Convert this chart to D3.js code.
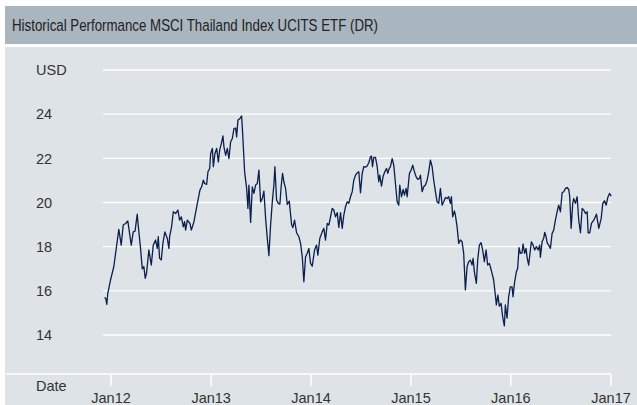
<!DOCTYPE html>
<html>
<head>
<meta charset="utf-8">
<script src="https://cdn.jsdelivr.net/npm/d3@7"></script>
<style>
  body { margin: 0; background: #fff; }
  text { font-family: "Liberation Sans", Arial, sans-serif; }
</style>
</head>
<body>
<div id="chart"></div>
<script>
// decimal year of each weekly observation, and the price in USD
const times = [2011.940, 2011.953, 2011.963, 2011.973, 2012.000, 2012.033, 2012.083, 2012.107, 2012.127, 2012.150,
  2012.173, 2012.207, 2012.227, 2012.245, 2012.267, 2012.275, 2012.300, 2012.317, 2012.333, 2012.347,
  2012.360, 2012.383, 2012.407, 2012.427, 2012.450, 2012.467, 2012.477, 2012.490, 2012.507, 2012.523,
  2012.543, 2012.567, 2012.583, 2012.590, 2012.610, 2012.627, 2012.650, 2012.673, 2012.690, 2012.707,
  2012.727, 2012.740, 2012.750, 2012.767, 2012.793, 2012.807, 2012.833, 2012.867, 2012.893, 2012.910,
  2012.927, 2012.940, 2012.960, 2012.973, 2012.990, 2013.000, 2013.017, 2013.027, 2013.043, 2013.060,
  2013.077, 2013.090, 2013.107, 2013.123, 2013.133, 2013.150, 2013.167, 2013.183, 2013.200, 2013.217,
  2013.233, 2013.250, 2013.260, 2013.273, 2013.293, 2013.310, 2013.323, 2013.340, 2013.360, 2013.373,
  2013.383, 2013.400, 2013.417, 2013.433, 2013.450, 2013.467, 2013.483, 2013.500, 2013.517, 2013.533,
  2013.550, 2013.567, 2013.583, 2013.600, 2013.617, 2013.633, 2013.643, 2013.660, 2013.677, 2013.693,
  2013.707, 2013.720, 2013.733, 2013.750, 2013.767, 2013.787, 2013.810, 2013.823, 2013.840, 2013.860,
  2013.883, 2013.900, 2013.917, 2013.933, 2013.950, 2013.967, 2013.983, 2014.000, 2014.017, 2014.040,
  2014.060, 2014.073, 2014.093, 2014.117, 2014.133, 2014.150, 2014.167, 2014.183, 2014.200, 2014.217,
  2014.233, 2014.250, 2014.267, 2014.283, 2014.300, 2014.317, 2014.333, 2014.350, 2014.367, 2014.383,
  2014.400, 2014.417, 2014.433, 2014.450, 2014.467, 2014.483, 2014.500, 2014.517, 2014.533, 2014.550,
  2014.567, 2014.583, 2014.600, 2014.610, 2014.620, 2014.633, 2014.650, 2014.667, 2014.683, 2014.693,
  2014.710, 2014.727, 2014.743, 2014.760, 2014.773, 2014.787, 2014.800, 2014.817, 2014.833, 2014.850,
  2014.867, 2014.883, 2014.893, 2014.910, 2014.927, 2014.940, 2014.957, 2014.967, 2014.990, 2015.007,
  2015.023, 2015.040, 2015.057, 2015.073, 2015.090, 2015.100, 2015.117, 2015.133, 2015.150, 2015.167,
  2015.183, 2015.200, 2015.217, 2015.233, 2015.250, 2015.267, 2015.283, 2015.300, 2015.317, 2015.333,
  2015.350, 2015.367, 2015.383, 2015.400, 2015.410, 2015.423, 2015.440, 2015.450, 2015.467, 2015.483,
  2015.500, 2015.517, 2015.533, 2015.550, 2015.567, 2015.583, 2015.600, 2015.617, 2015.627, 2015.640,
  2015.660, 2015.673, 2015.690, 2015.707, 2015.723, 2015.740, 2015.757, 2015.773, 2015.790, 2015.800,
  2015.817, 2015.833, 2015.850, 2015.860, 2015.875, 2015.890, 2015.907, 2015.923, 2015.940, 2015.950,
  2015.967, 2015.983, 2016.000, 2016.017, 2016.027, 2016.043, 2016.060, 2016.073, 2016.087, 2016.100,
  2016.117, 2016.127, 2016.143, 2016.157, 2016.167, 2016.183, 2016.200, 2016.210, 2016.227, 2016.243,
  2016.260, 2016.277, 2016.293, 2016.300, 2016.317, 2016.333, 2016.343, 2016.357, 2016.367, 2016.383,
  2016.400, 2016.417, 2016.433, 2016.450, 2016.467, 2016.483, 2016.500, 2016.517, 2016.533, 2016.550,
  2016.567, 2016.583, 2016.593, 2016.607, 2016.623, 2016.633, 2016.650, 2016.667, 2016.683, 2016.700,
  2016.717, 2016.733, 2016.750, 2016.767, 2016.777, 2016.793, 2016.810, 2016.833, 2016.860, 2016.883,
  2016.907, 2016.923, 2016.940, 2016.957, 2016.973, 2016.990, 2017.007];

const prices = [15.70, 15.65, 15.39, 15.89, 16.49, 17.09, 18.78, 18.07, 18.98, 19.05,
  19.16, 18.07, 18.67, 18.70, 19.47, 19.05, 17.92, 17.00, 17.10, 16.56,
  16.80, 17.85, 17.17, 18.07, 18.30, 17.92, 18.45, 17.47, 17.40, 18.15,
  18.67, 18.37, 17.92, 18.45, 18.90, 19.58, 19.50, 19.66, 19.20, 19.35,
  18.90, 19.13, 18.75, 19.20, 19.05, 18.75, 19.13, 19.96, 20.56, 20.71,
  21.01, 20.86, 20.82, 21.39, 21.54, 22.22, 22.45, 21.62, 22.22, 22.45,
  21.84, 22.37, 22.67, 23.02, 22.52, 22.14, 22.45, 21.99, 22.75, 22.90,
  23.35, 23.37, 22.97, 23.73, 23.80, 23.92, 22.90, 21.39, 20.64, 19.73,
  20.79, 19.10, 20.71, 20.41, 20.79, 20.86, 21.47, 20.03, 20.18, 20.52,
  19.28, 18.38, 17.59, 18.98, 20.03, 20.79, 21.62, 20.11, 19.96, 19.93,
  20.79, 21.32, 20.94, 20.64, 19.91, 20.06, 19.00, 18.86, 19.20, 18.63,
  18.45, 18.15, 17.54, 16.41, 17.54, 17.70, 17.92, 17.24, 17.12, 17.85,
  18.07, 17.62, 18.38, 18.67, 18.83, 18.30, 19.05, 18.98, 19.35, 19.73,
  19.66, 19.35, 19.54, 18.87, 19.54, 18.83, 19.43, 19.81, 20.03, 19.96,
  20.26, 20.49, 21.01, 21.24, 21.34, 21.39, 20.44, 21.32, 21.62, 21.60,
  21.65, 21.80, 22.07, 22.10, 21.62, 22.04, 22.04, 21.62, 20.94, 21.24,
  20.74, 21.19, 21.39, 21.54, 21.32, 21.54, 21.62, 21.99, 21.69, 20.86,
  20.03, 19.88, 20.79, 20.26, 20.59, 20.33, 20.64, 20.26, 21.32, 21.47,
  21.69, 21.39, 21.16, 21.05, 21.09, 21.24, 20.49, 20.71, 20.79, 21.01,
  21.39, 21.92, 21.62, 21.01, 20.49, 20.03, 19.96, 20.64, 19.88, 20.03,
  20.23, 20.18, 20.26, 19.96, 20.26, 19.35, 19.62, 19.43, 18.90, 18.15,
  18.30, 18.22, 17.70, 16.04, 17.09, 17.32, 17.39, 17.17, 17.47, 16.86,
  16.34, 17.39, 18.07, 18.18, 17.85, 17.32, 17.85, 17.17, 17.24, 17.09,
  16.79, 16.49, 15.81, 15.36, 15.81, 15.31, 15.43, 14.83, 14.41, 15.36,
  14.76, 15.73, 16.18, 16.18, 15.73, 16.41, 16.86, 17.01, 17.96, 17.70,
  17.72, 18.12, 17.70, 17.92, 17.52, 17.17, 17.85, 18.22, 18.07, 17.85,
  18.00, 17.85, 18.07, 17.52, 18.22, 18.38, 18.65, 18.45, 18.18, 18.07,
  17.92, 18.60, 18.75, 19.20, 19.58, 19.88, 19.58, 20.44, 20.49, 20.64,
  20.68, 20.59, 20.26, 18.83, 19.96, 20.18, 19.96, 20.26, 19.20, 18.63,
  19.73, 19.66, 19.50, 19.58, 18.63, 18.63, 19.05, 19.20, 19.47, 18.83,
  19.28, 19.96, 20.08, 19.88, 20.23, 20.41, 20.29];

const yTicks = [14, 16, 18, 20, 22, 24, 26];
const yTickLabels = ["14", "16", "18", "20", "22", "24", "USD"];
const xTickYears = [2012, 2013, 2014, 2015, 2016, 2017];
const title = "Historical Performance MSCI Thailand Index UCITS ETF (DR)";

const width = 637,
    height = 405;

const svg = d3.select("#chart")
    .append("svg")
    .attr("width", width)
    .attr("height", height);

// decimal year -> Date
const toDate = t => {
    const yr = Math.floor(t);
    const a = new Date(yr, 0, 1), b = new Date(yr + 1, 0, 1);
    return new Date(+a + (t - yr) * (b - a));
};

const data = times.map((t, i) => ({date: toDate(t), value: prices[i]}));

const x = d3.scaleTime()
    .domain([new Date(2012, 0, 1), new Date(2017, 0, 1)])
    .range([110.5, 610.5]);

const y = d3.scaleLinear()
    .domain([14, 26])
    .range([335, 70]);

// title bar and panel
svg.append("rect")
    .attr("x", 5).attr("y", 6)
    .attr("width", width - 5).attr("height", 38)
    .attr("fill", "#a9b5bf");

svg.append("text")
    .attr("x", 12).attr("y", 31)
    .attr("font-size", 17)
    .attr("fill", "#222")
    .attr("textLength", 366)
    .attr("lengthAdjust", "spacingAndGlyphs")
    .text(title);

svg.append("rect")
    .attr("x", 5).attr("y", 47)
    .attr("width", width - 5).attr("height", height - 47)
    .attr("fill", "#dde3e7");

// gridlines + y labels
const grid = svg.append("g");
grid.selectAll("line")
    .data(yTicks)
    .join("line")
    .attr("x1", 103).attr("x2", 611)
    .attr("y1", d => y(d)).attr("y2", d => y(d))
    .attr("stroke", "#fff")
    .attr("stroke-width", 1.4);

grid.selectAll("text")
    .data(yTicks)
    .join("text")
    .attr("x", 36)
    .attr("y", d => y(d))
    .attr("dy", "0.36em")
    .attr("font-size", 14.5)
    .attr("fill", "#333")
    .text((d, i) => yTickLabels[i]);

// x axis
const xAxis = g => g
    .attr("transform", `translate(0,374)`)
    .call(d3.axisBottom(x)
        .tickValues(xTickYears.map(yr => new Date(yr, 0, 1)))
        .tickFormat(d3.timeFormat("Jan%y"))
        .tickSize(12)
        .tickPadding(7))
    .call(g => g.select(".domain").remove())
    .call(g => g.selectAll(".tick line").attr("stroke", "#fff").attr("stroke-width", 1.5))
    .call(g => g.selectAll(".tick text")
        .attr("font-size", 14.5)
        .attr("font-family", "Liberation Sans, Arial, sans-serif")
        .attr("fill", "#333"));

svg.append("line")
    .attr("x1", 6).attr("x2", 611)
    .attr("y1", 374).attr("y2", 374)
    .attr("stroke", "#fff")
    .attr("stroke-width", 1.5);

svg.append("g").call(xAxis);

svg.append("text")
    .attr("x", 36).attr("y", 391)
    .attr("font-size", 14.5)
    .attr("fill", "#333")
    .text("Date");

// price line
const line = d3.line()
    .x(d => x(d.date))
    .y(d => y(d.value));

svg.append("path")
    .datum(data)
    .attr("fill", "none")
    .attr("stroke", "#0b1f4d")
    .attr("stroke-width", 1.3)
    .attr("stroke-linejoin", "round")
    .attr("d", line);
</script>
</body>
</html>
